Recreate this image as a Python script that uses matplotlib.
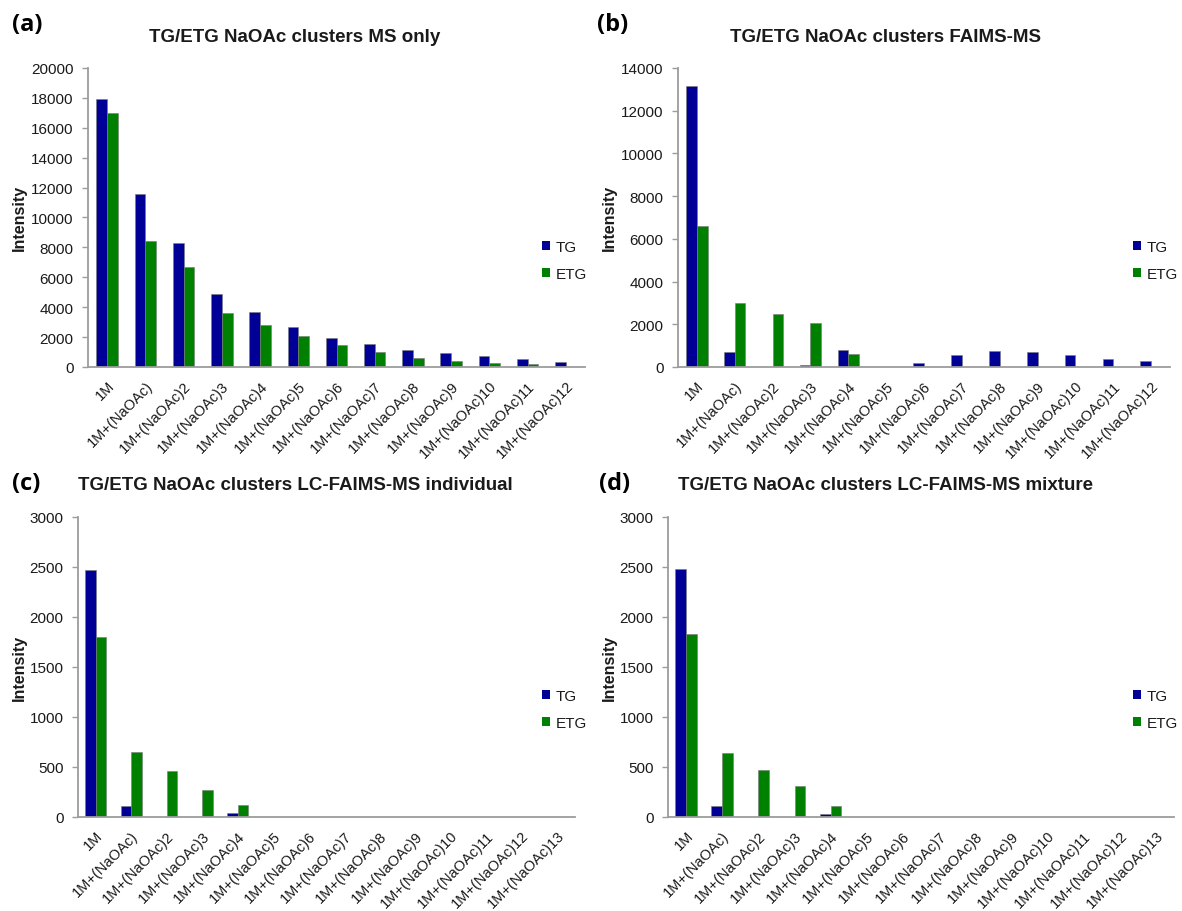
import matplotlib
matplotlib.use("Agg")
import matplotlib.pyplot as plt
from matplotlib.patches import Patch
from matplotlib.transforms import ScaledTranslation

plt.rcParams['font.family'] = ['Liberation Sans', 'DejaVu Sans']

# Cluster labels
cats_12 = ['1M', '1M+(NaOAc)'] + ['1M+(NaOAc)%d' % k for k in range(2, 13)]
cats_13 = ['1M', '1M+(NaOAc)'] + ['1M+(NaOAc)%d' % k for k in range(2, 14)]

# (a) MS only
ms_tg = [17900, 11600, 8300, 4900, 3700, 2700, 1950, 1550, 1150, 950, 730, 560, 330]
ms_etg = [17000, 8400, 6700, 3600, 2800, 2100, 1450, 1000, 620, 400, 250, 180, 0]

# (b) FAIMS-MS
faims_tg = [13150, 700, 0, 80, 810, 0, 200, 545, 730, 700, 580, 360, 280]
faims_etg = [6600, 3000, 2500, 2050, 610, 0, 0, 0, 0, 0, 0, 0, 0]

# (c) LC-FAIMS-MS individual
lc_ind_tg = [2470, 110, 0, 0, 43, 0, 0, 0, 0, 0, 0, 0, 0, 0]
lc_ind_etg = [1800, 650, 460, 275, 117, 0, 0, 0, 0, 0, 0, 0, 0, 0]

# (d) LC-FAIMS-MS mixture
lc_mix_tg = [2480, 110, 0, 0, 27, 0, 0, 0, 0, 0, 0, 0, 0, 0]
lc_mix_etg = [1830, 645, 470, 310, 110, 0, 0, 0, 0, 0, 0, 0, 0, 0]

TG_COLOR = '#000096'
ETG_COLOR = '#008000'
SPINE = '#9c9c9c'
TXT = '#1a1a1a'

W, H = 1182, 912
fig = plt.figure(figsize=(W / 100, H / 100), dpi=100)


def px_x(x):
    return x / W


def px_y(y):
    return 1 - y / H


panels = [
    dict(tag='(a)', title='TG/ETG NaOAc clusters MS only', cats=cats_12,
         tg=ms_tg, etg=ms_etg, ymax=20000, step=2000, bw=0.28,
         box=(88, 585, 69, 368), tag_xy=(12, 25), title_xy=(295, 37),
         ylab_xy=(19, 218), leg_xy=(542, 241)),
    dict(tag='(b)', title='TG/ETG NaOAc clusters FAIMS-MS', cats=cats_12,
         tg=faims_tg, etg=faims_etg, ymax=14000, step=2000, bw=0.28,
         box=(678, 1170, 69, 368), tag_xy=(597, 25), title_xy=(885, 37),
         ylab_xy=(609, 218), leg_xy=(1133, 241)),
    dict(tag='(c)', title='TG/ETG NaOAc clusters LC-FAIMS-MS individual', cats=cats_13,
         tg=lc_ind_tg, etg=lc_ind_etg, ymax=3000, step=500, bw=0.30,
         box=(78, 575, 518, 818), tag_xy=(12, 484), title_xy=(295, 486),
         ylab_xy=(19, 668), leg_xy=(542, 690)),
    dict(tag='(d)', title='TG/ETG NaOAc clusters LC-FAIMS-MS mixture', cats=cats_13,
         tg=lc_mix_tg, etg=lc_mix_etg, ymax=3000, step=500, bw=0.30,
         box=(668, 1174, 518, 818), tag_xy=(599, 484), title_xy=(886, 486),
         ylab_xy=(609, 668), leg_xy=(1133, 690)),
]

label_shift = ScaledTranslation(4 / 100, 0, fig.dpi_scale_trans)

for p in panels:
    x0, x1, y0, y1 = p['box']
    ax = fig.add_axes([px_x(x0), px_y(y1), (x1 - x0) / W, (y1 - y0) / H])
    n = len(p['cats'])
    pos = list(range(n))
    bw = p['bw']
    ax.bar([i - bw / 2 for i in pos], p['tg'], width=bw, color=TG_COLOR,
           edgecolor='#7a7a7a', linewidth=0.4, label='TG', zorder=2)
    ax.bar([i + bw / 2 for i in pos], p['etg'], width=bw, color=ETG_COLOR,
           edgecolor='#7a7a7a', linewidth=0.4, label='ETG', zorder=2)
    ax.set_xlim(-0.5, n - 0.5)
    ax.set_ylim(0, p['ymax'])
    ax.set_yticks(range(0, p['ymax'] + 1, p['step']))
    ax.set_xticks(pos)
    ax.set_xticklabels(p['cats'], rotation=45, ha='right', rotation_mode='anchor')
    for lab in ax.get_xticklabels():
        lab.set_transform(lab.get_transform() + label_shift)
    for s in ('top', 'right'):
        ax.spines[s].set_visible(False)
    for s in ('left', 'bottom'):
        ax.spines[s].set_color(SPINE)
        ax.spines[s].set_linewidth(1.3)
    ax.tick_params(axis='x', length=0, pad=8, labelsize=10.5, labelcolor=TXT)
    ax.tick_params(axis='y', length=4, width=1, color=SPINE, pad=6.5,
                   labelsize=11, labelcolor=TXT)

    handles = [Patch(facecolor=TG_COLOR, edgecolor='none', label='TG'),
               Patch(facecolor=ETG_COLOR, edgecolor='none', label='ETG')]
    lx, ly = p['leg_xy']
    ax.legend(handles=handles, loc='upper left',
              bbox_to_anchor=(px_x(lx), px_y(ly)), bbox_transform=fig.transFigure,
              frameon=False, fontsize=11, handlelength=0.55, handleheight=0.55,
              handletextpad=0.35, labelspacing=0.85, borderpad=0, borderaxespad=0,
              labelcolor=TXT)

    tx, ty = p['tag_xy']
    fig.text(px_x(tx), px_y(ty), p['tag'], ha='left', va='center',
             fontsize=17, fontweight='bold', family=['Open Sans', 'DejaVu Sans'],
             color='black')
    tx, ty = p['title_xy']
    fig.text(px_x(tx), px_y(ty), p['title'], ha='center', va='center',
             fontsize=13.5, fontweight='bold', color=TXT)
    tx, ty = p['ylab_xy']
    fig.text(px_x(tx), px_y(ty), 'Intensity', ha='center', va='center',
             rotation=90, fontsize=11.5, fontweight='bold', color=TXT)

fig.savefig('out.png', dpi=100, facecolor='white')
